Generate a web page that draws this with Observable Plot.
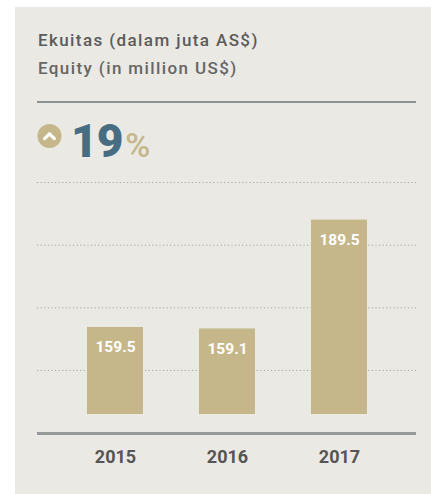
<!DOCTYPE html>
<html><head><meta charset="utf-8">
<script src="https://cdn.jsdelivr.net/npm/d3@7"></script>
<script src="https://cdn.jsdelivr.net/npm/@observablehq/plot@0.6"></script>
<style>
html,body{margin:0;padding:0;background:#fff;width:431px;height:494px;overflow:hidden;font-family:Roboto,sans-serif;}
#panel{position:absolute;left:15px;top:7px;width:416px;height:487px;background:#ebe9e4;}
.t{position:absolute;left:38px;font-size:17px;line-height:16px;font-weight:500;color:#5b5b5b;letter-spacing:1.4px;white-space:nowrap;}
#rule{position:absolute;left:37px;top:100.5px;width:379px;height:2px;background:#8f9295;}
#icon{position:absolute;left:37px;top:124px;}
#big{position:absolute;left:71px;top:118px;line-height:46px;height:46px;white-space:nowrap;}
#big .n{font-size:46px;font-weight:900;color:#476d82;letter-spacing:-1px;}
#big .p{font-size:34px;font-weight:500;color:#c5b78a;margin-left:3px;}
#chart{position:absolute;left:0;top:160px;}
</style></head>
<body>
<div id="panel"></div>
<div class="t" style="top:32px">Ekuitas (dalam juta AS$)</div>
<div class="t" style="top:60px;color:#666">Equity (in million US$)</div>
<div id="rule"></div>
<svg id="icon" width="25" height="25" viewBox="0 0 25 25"><circle cx="12.5" cy="12" r="12" fill="#c5b78a"/><polyline points="7.6,14.6 12.5,9.8 17.4,14.6" fill="none" stroke="#fff" stroke-width="3.2" stroke-linecap="round" stroke-linejoin="round"/></svg>
<div id="big"><span class="n">19</span><span class="p">%</span></div>
<div id="chart"></div>
<script>
const years = ["2015", "2016", "2017"];
const equity = [159.5, 159.1, 189.5];
const valueLabels = ["159.5", "159.1", "189.5"];
const gridValues = [147.5, 165, 182.5, 200];
const yBase = 135.2;
const yTop = 200;

const data = years.map((y, i) => ({year: y, value: equity[i], label: valueLabels[i]}));

const chart = Plot.plot({
  width: 431, height: 310,
  marginLeft: 37, marginRight: 15, marginTop: 22, marginBottom: 56,
  style: {background: "transparent", fontFamily: "Roboto, sans-serif", overflow: "visible", color: "#555"},
  x: {domain: years, paddingInner: 0.504, paddingOuter: 0.429, label: null},
  y: {domain: [yBase, yTop], axis: null},
  marks: [
    Plot.ruleY(gridValues, {stroke: "#a6a6a6", strokeWidth: 1, strokeDasharray: "1.2,2.4"}),
    Plot.barY(data, {x: "year", y1: yBase, y2: "value", fill: "#c5b78a"}),
    Plot.text(data, {x: "year", y: "value", text: "label", dy: 20, fill: "#fff", fontSize: 15.5, fontWeight: "bold"}),
    Plot.ruleY([yBase], {dy: 19, stroke: "#97999b", strokeWidth: 3}),
    Plot.axisX({tickSize: 0, tickPadding: 36, fontSize: 18, fontWeight: "bold", fill: "#555", letterSpacing: 0.5, label: null})
  ]
});
document.getElementById("chart").appendChild(chart);
</script>
</body></html>
